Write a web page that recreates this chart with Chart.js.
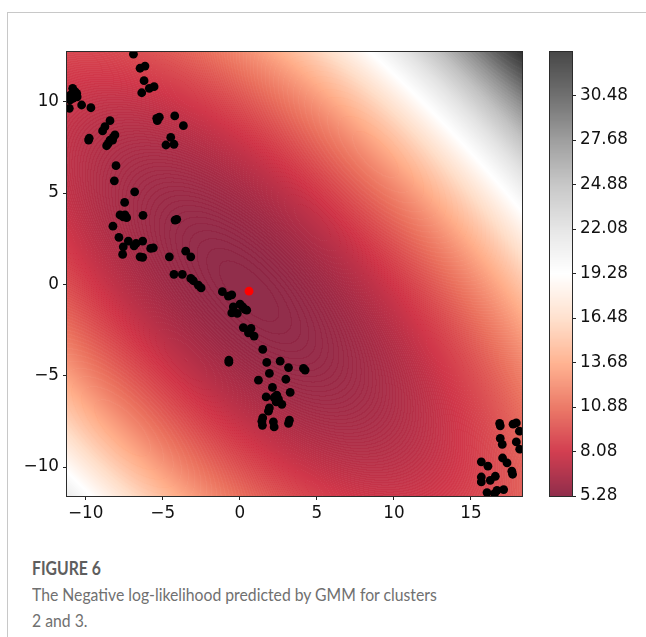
<!DOCTYPE html>
<html>
<head>
<meta charset="utf-8">
<script src="https://cdn.jsdelivr.net/npm/chart.js@4.4.1/dist/chart.umd.min.js"></script>
<style>
  html, body { margin: 0; padding: 0; background: #fff; }
  #page { position: relative; width: 646px; height: 637px; overflow: hidden; }
  #frame { position: absolute; left: 7px; top: 12px; width: 700px; height: 700px;
           border-top: 1px solid #c8c8c8; border-left: 1px solid #c8c8c8; }
  #main { position: absolute; left: 0; top: 0; }
  #cbar { position: absolute; left: 530px; top: 0; }
  #caption { position: absolute; left: 32px; top: 555px; font-family: Lato, sans-serif;
             font-size: 18px; line-height: 26px; color: #707070; white-space: nowrap;
             transform: scaleX(0.875); transform-origin: 0 0; }
  #caption b { color: #5e5e5e; font-weight: 700; }
</style>
</head>
<body>
<div id="page">
  <div id="frame"></div>
  <canvas id="main" width="540" height="540"></canvas>
  <canvas id="cbar" width="116" height="540"></canvas>
  <div id="caption"><b>FIGURE 6</b><br>The Negative log-likelihood predicted by GMM for clusters<br>2 and 3.</div>
</div>
<script>
// axis ranges and ticks
const xRange = [-11.21, 18.31];
const yRange = [-11.58, 12.72];
const xTicks = [-10, -5, 0, 5, 10, 15];
const yTicks = [-10, -5, 0, 5, 10];

// colour bar: 500 contour levels from 5.28 up to 33.22
const nllRange = [5.28, 33.22];
const nllLevels = 500;
const cbTicks = [5.28, 8.08, 10.88, 13.68, 16.48, 19.28, 22.08, 24.88, 27.68, 30.48];

// fitted gaussian, its mean is the red marker
const gmmMean = [0.6, -0.37];
const gmmCov = [[33.7, -20.4], [-20.4, 24.53]];

// data points (clusters 2 and 3)
const ptsX = [
  -6.9, -6.47, -6.15, -6.21, -6.36, -5.87, -5.56,
  -10.84, -10.69, -10.97, -10.55, -10.81, -11.02, -10.58, -11.06, -10.26, -9.66,
  -8.42, -8.75, -8.9, -9.77, -9.81, -8.1, -8.21, -8.42, -8.25, -8.53, -8.64,
  -8.03, -8.14, -6.82, -7.47, -7.77, -7.56, -7.34, -7.45, -6.28, -8.23, -7.84, -7.23,
  -7.56, -6.86, -6.73, -6.3, -7.6, -6.47, -6.3, -5.78, -5.61, -4.57, -4.2, -4.09,
  -3.51, -3.18, -4.27, -3.73, -3.18, -3.01, -2.69, -2.51,
  -5.39, -5.22, -5.35, -4.22, -3.66, -4.48, -4.79, -4.27,
  -1.13, -0.74, -0.52, 0.02, 0.19, 0.34, -0.42, -0.52, -0.16, 0.45, 0.23, 0.73, 0.56, 0.93,
  1.49, -0.71, -0.71, 1.75, 2.62, 3.16, 1.92, 4.13, 4.24, 1.21, 2.99, 2.12, 3.27,
  1.71, 2.23, 2.4, 2.51, 2.73, 2.36, 1.92, 1.86, 1.49, 1.43, 1.47, 2.18, 2.23, 3.22, 3.16,
  16.86, 16.9, 17.73, 17.94, 18.14, 16.9, 17.03, 17.94, 18.16, 15.67, 16.1, 17.05,
  17.34, 17.65, 17.7, 15.67, 15.67, 16.25, 16.58, 16.04, 16.69, 17.12, 16.53
];
const ptsY = [
  12.6, 11.83, 11.95, 11.15, 10.49, 10.73, 10.82,
  10.73, 10.55, 10.37, 10.27, 10.19, 10.09, 10.46, 9.64, 9.82, 9.67,
  8.96, 8.63, 8.4, 8.0, 7.9, 8.18, 8.05, 7.9, 7.9, 7.72, 7.59,
  6.5, 5.67, 5.07, 4.49, 3.8, 3.7, 3.65, 3.8, 3.78, 3.19, 2.57, 2.37,
  2.06, 2.11, 2.24, 2.37, 1.64, 1.51, 1.48, 1.97, 2.0, 1.51, 3.52, 3.56,
  1.82, 1.51, 0.55, 0.55, 0.33, 0.2, -0.04, -0.19,
  9.09, 9.15, 8.96, 9.22, 8.69, 8.05, 7.63, 7.67,
  -0.4, -0.64, -0.57, -1.08, -1.23, -1.37, -1.23, -1.56, -1.59, -1.41, -2.36, -2.41, -2.65, -2.83,
  -3.56, -4.15, -4.26, -4.27, -4.2, -4.55, -4.87, -4.6, -4.69, -5.24, -5.19, -5.64, -5.91,
  -6.16, -6.19, -6.06, -6.28, -6.56, -6.43, -6.76, -6.94, -7.31, -7.49, -7.71, -7.52, -7.8, -7.43, -7.61,
  -7.61, -7.74, -7.65, -7.58, -8.03, -8.43, -8.76, -8.62, -9.02, -9.71, -9.95, -9.5,
  -9.77, -10.22, -10.39, -10.54, -10.81, -10.72, -10.5, -11.39, -11.27, -11.23, -11.45
];

// RdGy colormap stops
const rdgy = [
  [103, 0, 31], [178, 24, 43], [214, 96, 77], [244, 165, 130], [253, 219, 199],
  [255, 255, 255], [224, 224, 224], [186, 186, 186], [135, 135, 135], [77, 77, 77], [26, 26, 26]
];
const fillAlpha = 0.8;
const satBoost = 1.2;

function cmap(t) {
  t = Math.min(Math.max(t, 0), 1) * (rdgy.length - 1);
  const i = Math.min(Math.floor(t), rdgy.length - 2), f = t - i;
  const a = rdgy[i], b = rdgy[i + 1];
  return [a[0] + (b[0] - a[0]) * f, a[1] + (b[1] - a[1]) * f, a[2] + (b[2] - a[2]) * f];
}

// colour over white with the given opacity, then a little more saturation
function blend(col, al) {
  const c = col.map((ch) => ch * al + 255 * (1 - al));
  const lum = 0.3 * c[0] + 0.59 * c[1] + 0.11 * c[2];
  return c.map((ch) => Math.round(Math.min(255, Math.max(0, lum + (ch - lum) * satBoost))));
}

const det = gmmCov[0][0] * gmmCov[1][1] - gmmCov[0][1] * gmmCov[1][0];
const inv = [[gmmCov[1][1] / det, -gmmCov[0][1] / det], [-gmmCov[1][0] / det, gmmCov[0][0] / det]];
function nllAt(x, y) {
  const dx = x - gmmMean[0], dy = y - gmmMean[1];
  const m = inv[0][0] * dx * dx + 2 * inv[0][1] * dx * dy + inv[1][1] * dy * dy;
  return nllRange[0] + 0.5 * m;
}

const step = (nllRange[1] - nllRange[0]) / (nllLevels - 1);
const nBands = nllLevels - 1;

/* filled contours: one colour per band; where band edges pass through a
   pixel it gets a little more opaque (the faint contour lines) */
function renderField(xs, ys, a) {
  const W = Math.round(a.right - a.left), H = Math.round(a.bottom - a.top);
  const gx = [], gy = [];
  for (let i = 0; i <= W; i++) gx.push(xs.getValueForPixel(a.left + i));
  for (let j = 0; j <= H; j++) gy.push(ys.getValueForPixel(a.top + j));
  const g = new Float64Array((W + 1) * (H + 1));
  for (let j = 0; j <= H; j++)
    for (let i = 0; i <= W; i++) g[j * (W + 1) + i] = (nllAt(gx[i], gy[j]) - nllRange[0]) / step;
  const off = document.createElement('canvas');
  off.width = W; off.height = H;
  const octx = off.getContext('2d');
  const img = octx.createImageData(W, H);
  for (let j = 0; j < H; j++) {
    for (let i = 0; i < W; i++) {
      const c00 = g[j * (W + 1) + i], c10 = g[j * (W + 1) + i + 1];
      const c01 = g[(j + 1) * (W + 1) + i], c11 = g[(j + 1) * (W + 1) + i + 1];
      const lo = Math.min(c00, c10, c01, c11), hi = Math.max(c00, c10, c01, c11);
      const mid = (c00 + c10 + c01 + c11) / 4;
      const k = Math.min(Math.max(Math.floor(mid), 0), nBands - 1);
      const seams = Math.floor(hi) - Math.floor(lo);
      const al = 1 - (1 - fillAlpha) * Math.pow(0.84, seams);
      const c = blend(cmap((k + 0.5) / nBands), al);
      const p = (j * W + i) * 4;
      img.data[p] = c[0];
      img.data[p + 1] = c[1];
      img.data[p + 2] = c[2];
      img.data[p + 3] = 255;
    }
  }
  octx.putImageData(img, 0, 0);
  return off;
}

function frameArea(chart) {
  const { ctx, chartArea: a } = chart;
  ctx.save();
  ctx.strokeStyle = '#2b2b2b';
  ctx.lineWidth = 1;
  ctx.strokeRect(Math.round(a.left) - 0.5, Math.round(a.top) - 0.5,
                 Math.round(a.right - a.left) + 1, Math.round(a.bottom - a.top) + 1);
  ctx.restore();
}

const fieldPlugin = {
  id: 'nllField',
  beforeDatasetsDraw(chart) {
    const { ctx, chartArea: a, scales } = chart;
    if (!chart.$field) chart.$field = renderField(scales.x, scales.y, a);
    ctx.drawImage(chart.$field, Math.round(a.left), Math.round(a.top));
  },
  afterDraw: frameArea
};

function minusFmt(v) {
  return v < 0 ? '\u2212' + Math.abs(v) : String(v);
}

const tickFont = { family: "'DejaVu Sans', sans-serif", size: 16.8 };
const axisGrid = { drawOnChartArea: false, drawTicks: true, tickLength: 4, color: '#222', tickColor: '#222', tickWidth: 1 };

new Chart(document.getElementById('main'), {
  type: 'scatter',
  data: {
    datasets: [
      {
        data: ptsX.map((x, i) => ({ x: x, y: ptsY[i] })),
        pointRadius: 4.4,
        pointBackgroundColor: '#000',
        pointBorderWidth: 0,
        clip: 0
      },
      {
        data: [{ x: gmmMean[0], y: gmmMean[1] }],
        pointRadius: 4.4,
        pointBackgroundColor: '#ff0000',
        pointBorderWidth: 0,
        clip: 0
      }
    ]
  },
  options: {
    responsive: false,
    animation: false,
    events: [],
    layout: { padding: { left: 0, top: 52, right: 18, bottom: 4 } },
    plugins: { legend: { display: false }, tooltip: { enabled: false } },
    scales: {
      x: {
        type: 'linear', min: xRange[0], max: xRange[1],
        afterBuildTicks: (s) => { s.ticks = xTicks.map((v) => ({ value: v })); },
        afterFit: (s) => { s.height = 40; },
        grid: axisGrid,
        border: { display: false },
        ticks: { color: '#111', font: tickFont, padding: 4, maxRotation: 0, autoSkip: false, callback: minusFmt }
      },
      y: {
        type: 'linear', min: yRange[0], max: yRange[1],
        afterBuildTicks: (s) => { s.ticks = yTicks.map((v) => ({ value: v })); },
        afterFit: (s) => { s.width = 67; },
        grid: axisGrid,
        border: { display: false },
        ticks: { color: '#111', font: tickFont, padding: 4, autoSkip: false, callback: minusFmt }
      }
    }
  },
  plugins: [fieldPlugin]
});

/* colour bar, drawn row by row from its own scale */
const colorbarPlugin = {
  id: 'colorbar',
  beforeDatasetsDraw(chart) {
    const { ctx, chartArea: a, scales: { y } } = chart;
    for (let py = Math.round(a.top); py < Math.round(a.bottom); py++) {
      const v = (y.getValueForPixel(py + 0.5) - nllRange[0]) / step;
      const k = Math.min(Math.max(Math.floor(v), 0), nBands - 1);
      const c = blend(cmap((k + 0.5) / nBands), fillAlpha);
      ctx.fillStyle = 'rgb(' + c.join(',') + ')';
      ctx.fillRect(Math.round(a.left), py, Math.round(a.right - a.left), 1);
    }
  },
  afterDraw: frameArea
};

new Chart(document.getElementById('cbar'), {
  type: 'scatter',
  data: { datasets: [] },
  options: {
    responsive: false,
    animation: false,
    events: [],
    layout: { padding: { left: 20, top: 52, right: 0, bottom: 44 } },
    plugins: { legend: { display: false }, tooltip: { enabled: false } },
    scales: {
      x: { type: 'linear', display: false, min: 0, max: 1 },
      y: {
        type: 'linear', position: 'right', min: nllRange[0], max: nllRange[1],
        afterBuildTicks: (s) => { s.ticks = cbTicks.map((v) => ({ value: v })); },
        afterFit: (s) => { s.width = 74; },
        grid: axisGrid,
        border: { display: false },
        ticks: { color: '#111', font: tickFont, padding: 4, autoSkip: false, callback: (v) => v.toFixed(2) }
      }
    }
  },
  plugins: [colorbarPlugin]
});
</script>
</body>
</html>
